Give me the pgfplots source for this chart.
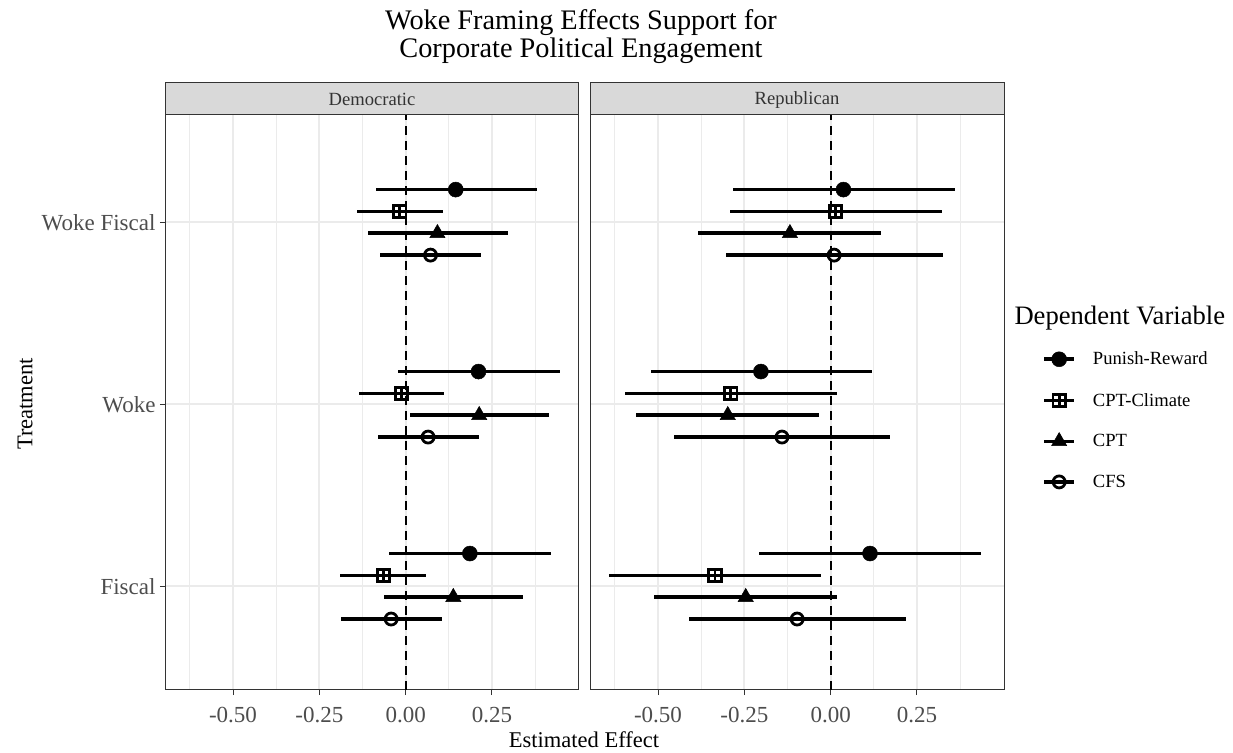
\documentclass[border=0pt]{standalone}
\usepackage{fontspec}
\setmainfont{Liberation Serif}
\usepackage{pgfplots}
\usepackage{pgfplotstable}
\pgfplotsset{compat=1.18}
\definecolor{gray20}{HTML}{333333}
\definecolor{gray30}{HTML}{4D4D4D}
\definecolor{gray85}{HTML}{D9D9D9}
\definecolor{gray92}{HTML}{EBEBEB}

\pgfdeclareplotmark{sqplus}{%
  \pgfpathrectangle{\pgfpoint{-\pgfplotmarksize}{-\pgfplotmarksize}}{\pgfpoint{2\pgfplotmarksize}{2\pgfplotmarksize}}%
  \pgfusepathqstroke
  \pgfpathmoveto{\pgfpoint{-\pgfplotmarksize}{0pt}}\pgfpathlineto{\pgfpoint{\pgfplotmarksize}{0pt}}%
  \pgfpathmoveto{\pgfpoint{0pt}{-\pgfplotmarksize}}\pgfpathlineto{\pgfpoint{0pt}{\pgfplotmarksize}}%
  \pgfusepathqstroke}

% cat: 1 = Fiscal, 2 = Woke, 3 = Woke Fiscal
\pgfplotstableread{
cat prE prL prH clE clL clH ptE ptL ptH cfE cfL cfH
3 0.145 -0.087 0.380 -0.017 -0.140 0.107 0.092 -0.110 0.295 0.072 -0.074 0.217
2 0.211 -0.022 0.446 -0.012 -0.136 0.112 0.213 0.012 0.416 0.065 -0.079 0.211
1 0.186 -0.047 0.422 -0.064 -0.189 0.060 0.138 -0.063 0.341 -0.042 -0.188 0.105
}\dem
\pgfplotstableread{
cat prE prL prH clE clL clH ptE ptL ptH cfE cfL cfH
3 0.037 -0.282 0.359 0.014 -0.292 0.322 -0.118 -0.384 0.145 0.010 -0.303 0.324
2 -0.202 -0.521 0.120 -0.289 -0.597 0.017 -0.298 -0.564 -0.033 -0.141 -0.454 0.172
1 0.114 -0.207 0.435 -0.335 -0.642 -0.028 -0.246 -0.512 0.018 -0.097 -0.409 0.218
}\rep

\pgfplotsset{
  panel/.style={
    scale only axis, width=414bp, height=575bp, anchor=south west,
    xmin=-0.697, xmax=0.502, ymin=0.43, ymax=3.59,
    xtick={-0.5,-0.25,0,0.25},
    xticklabels={-0.50,-0.25,0.00,0.25},
    minor xtick={-0.625,-0.375,-0.125,0.125,0.375},
    ytick={1,2,3},
    grid=both,
    major grid style={gray92, line width=1.8bp},
    minor grid style={gray92, line width=0.9bp},
    axis line style={gray20, line width=1bp},
    tick align=outside, major tick length=5bp,
    tick style={gray20, line width=1bp},
    minor tick length=0pt,
    xtick pos=bottom, ytick pos=left,
    ticklabel style={font=\fontsize{23bp}{26bp}\selectfont, text=gray30},
    xticklabel style={yshift=-9bp},
    yticklabel style={xshift=-1bp},
    clip=false,
  },
  eb/.style={/pgfplots/error bars/x dir=both, /pgfplots/error bars/x explicit,
    /pgfplots/error bars/error mark=none,
    /pgfplots/error bars/error bar style={line width=3.6bp, black, solid}},
  legimg/.style={legend image code/.code={%
    \draw[line width=3.6bp, black, solid] (0bp,0bp) -- (30bp,0bp);
    \draw plot coordinates {(15bp,0bp)};}},
  sPR/.style={black, only marks, mark=*, mark size=7.5bp, mark options={solid, fill=black, line width=0.5bp}},
  sCL/.style={black, only marks, mark=sqplus, mark size=6.2bp, mark options={solid, fill=white, line width=2.8bp}},
  sPT/.style={black, only marks, mark=triangle*, mark size=8.8bp, mark options={solid, fill=black, line width=0.5bp}},
  sCF/.style={black, only marks, mark=o, mark size=6bp, mark options={solid, line width=2.8bp}},
}

\begin{document}
\begin{tikzpicture}
\useasboundingbox (0,0) rectangle (1233bp,753bp);

\begin{axis}[panel, at={(165bp,63bp)}, yticklabels={Fiscal,Woke,Woke Fiscal}]
  \addplot[black, line width=2bp, dash pattern=on 9bp off 6bp, forget plot] coordinates {(0,0.43) (0,3.59)};
  \addplot[sPR, eb] table[x=prE, y expr=\thisrow{cat}+0.18, x error minus expr=\thisrow{prE}-\thisrow{prL}, x error plus expr=\thisrow{prH}-\thisrow{prE}] \dem;
  \addplot[sCL, eb] table[x=clE, y expr=\thisrow{cat}+0.06, x error minus expr=\thisrow{clE}-\thisrow{clL}, x error plus expr=\thisrow{clH}-\thisrow{clE}] \dem;
  \addplot[sPT, eb] table[x=ptE, y expr=\thisrow{cat}-0.06, x error minus expr=\thisrow{ptE}-\thisrow{ptL}, x error plus expr=\thisrow{ptH}-\thisrow{ptE}] \dem;
  \addplot[sCF, eb] table[x=cfE, y expr=\thisrow{cat}-0.18, x error minus expr=\thisrow{cfE}-\thisrow{cfL}, x error plus expr=\thisrow{cfH}-\thisrow{cfE}] \dem;
  \draw[gray20, fill=gray85, line width=1bp] (rel axis cs:0,1) rectangle (rel axis cs:1,1.0557);
  \node[font=\fontsize{18.6bp}{21bp}\selectfont, text=gray20] at (rel axis cs:0.5,1.0265) {Democratic};
\end{axis}

\begin{axis}[panel, at={(590bp,63bp)}, yticklabels={}, ytick style={draw=none},
  legend style={draw=none, fill=none, at={(1.085,0.595)}, anchor=north west,
    font=\fontsize{18.6bp}{21bp}\selectfont, row sep=22.8bp,
    /tikz/every odd column/.append style={column sep=15bp}},
  legend cell align=left]
  \addplot[black, line width=2bp, dash pattern=on 9bp off 6bp, forget plot] coordinates {(0,0.43) (0,3.59)};
  \addplot[sPR, eb, legimg] table[x=prE, y expr=\thisrow{cat}+0.18, x error minus expr=\thisrow{prE}-\thisrow{prL}, x error plus expr=\thisrow{prH}-\thisrow{prE}] \rep;
  \addlegendentry{Punish-Reward}
  \addplot[sCL, eb, legimg] table[x=clE, y expr=\thisrow{cat}+0.06, x error minus expr=\thisrow{clE}-\thisrow{clL}, x error plus expr=\thisrow{clH}-\thisrow{clE}] \rep;
  \addlegendentry{CPT-Climate}
  \addplot[sPT, eb, legimg] table[x=ptE, y expr=\thisrow{cat}-0.06, x error minus expr=\thisrow{ptE}-\thisrow{ptL}, x error plus expr=\thisrow{ptH}-\thisrow{ptE}] \rep;
  \addlegendentry{CPT}
  \addplot[sCF, eb, legimg] table[x=cfE, y expr=\thisrow{cat}-0.18, x error minus expr=\thisrow{cfE}-\thisrow{cfL}, x error plus expr=\thisrow{cfH}-\thisrow{cfE}] \rep;
  \addlegendentry{CFS}
  \draw[gray20, fill=gray85, line width=1bp] (rel axis cs:0,1) rectangle (rel axis cs:1,1.0557);
  \node[font=\fontsize{18.6bp}{21bp}\selectfont, text=gray20] at (rel axis cs:0.5,1.0265) {Republican};
\end{axis}

\node[font=\fontsize{28.3bp}{28bp}\selectfont, align=center] at (581bp,716bp) {Woke Framing Effects Support for\\Corporate Political Engagement};
\node[font=\fontsize{22.5bp}{25bp}\selectfont] at (584bp,13bp) {Estimated Effect};
\node[font=\fontsize{22.5bp}{25bp}\selectfont, rotate=90] at (25bp,349bp) {Treatment};
\node[font=\fontsize{26.6bp}{28bp}\selectfont, anchor=west] at (1011bp,435bp) {Dependent Variable};
\end{tikzpicture}
\end{document}
